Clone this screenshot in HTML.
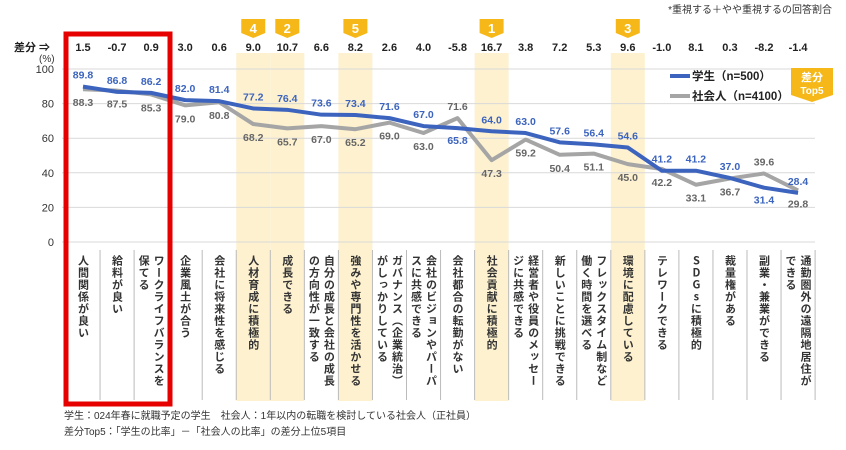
<!DOCTYPE html>
<html><head><meta charset="utf-8">
<style>
body{margin:0;width:846px;height:450px;background:#fff;font-family:"Liberation Sans","Noto Sans CJK JP",sans-serif;overflow:hidden}
svg{position:absolute;left:0;top:0}
.cat{position:absolute;top:255px;writing-mode:vertical-rl;text-orientation:upright;font-size:11px;font-weight:bold;color:#333;line-height:15px;letter-spacing:1px;font-family:"Noto Sans CJK JP",sans-serif}
</style></head><body>
<svg id="chart" width="846" height="450"></svg>
<div id="labels"></div>
<script>
const categories=["人間関係が良い","給料が良い","ワークライフバランスを<br>保てる","企業風土が合う","会社に将来性を感じる","人材育成に積極的","成長できる","自分の成長と会社の成長<br>の方向性が一致する","強みや専門性を活かせる","ガバナンス（企業統治）<br>がしっかりしている","会社のビジョンやパーパ<br>スに共感できる","会社都合の転勤がない","社会貢献に積極的","経営者や役員のメッセー<br>ジに共感できる","新しいことに挑戦できる","フレックスタイム制など<br>働く時間を選べる","環境に配慮している","テレワークできる","SDGsに積極的","裁量権がある","副業・兼業ができる","通勤圏外の遠隔地居住が<br>できる"];
const students=[89.8,86.8,86.2,82.0,81.4,77.2,76.4,73.6,73.4,71.6,67.0,65.8,64.0,63.0,57.6,56.4,54.6,41.2,41.2,37.0,31.4,28.4];
const workers=[88.3,87.5,85.3,79.0,80.8,68.2,65.7,67.0,65.2,69.0,63.0,71.6,47.3,59.2,50.4,51.1,45.0,42.2,33.1,36.7,39.6,29.8];
const diffs=["1.5","-0.7","0.9","3.0","0.6","9.0","10.7","6.6","8.2","2.6","4.0","-5.8","16.7","3.8","7.2","5.3","9.6","-1.0","8.1","0.3","-8.2","-1.4"];
const topIdx=[5,6,8,12,16];
const topRank=["4","2","5","1","3"];
const yTicks=[0,20,40,60,80,100];

const NS="http://www.w3.org/2000/svg";
const svg=document.getElementById('chart');
const X=i=>83+i*34.05;
const Y=v=>242-v*1.73;
function mk(t,a,p){const e=document.createElementNS(NS,t);for(const k in a)e.setAttribute(k,a[k]);(p||svg).appendChild(e);return e;}
function txt(x,y,s,a){const e=mk('text',Object.assign({x:x,y:y,'font-family':'"Liberation Sans","Noto Sans CJK JP",sans-serif'},a));e.textContent=s;return e;}

topIdx.forEach((ci,k)=>{
 const b=mk('rect',{x:X(ci)-17,y:53,width:34,height:348,fill:'#fdf1cf'});
 
 
 const bd=mk('path',{d:`M${X(ci)-12},19 h24 v14 l-12,5 l-12,-5 z`,fill:'#f5b818'});
 
 
 txt(X(ci),33,topRank[k],{'font-size':13,'font-weight':'bold',fill:'#fff','text-anchor':'middle'});
});
yTicks.forEach(t=>{
 const g=mk('line',{x1:62,x2:815,y1:Y(t),y2:Y(t),stroke:'#d9d9d9','stroke-width':1});
 
 
 const l=txt(54,Y(t)+4,String(t),{'font-size':11,fill:'#333','text-anchor':'end'});
 
 
});
for(let i=0;i<=categories.length;i++){
 const s=mk('line',{x1:X(i)-17,x2:X(i)-17,y1:250,y2:400,stroke:'#bbb','stroke-width':1});
 
 
}
diffs.forEach((d,i)=>{
 const e=txt(X(i),51,d,{'font-size':11,'font-weight':'bold',fill:'#222','text-anchor':'middle'});
 
 
});
txt(14,51,'差分 ⇒',{'font-size':11,'font-weight':'bold',fill:'#222'});
txt(39,62,'(%)',{'font-size':10,fill:'#333'});
const wl=mk('polyline',{points:workers.map((v,i)=>X(i)+','+Y(v)).join(' '),fill:'none',stroke:'#a5a5a5','stroke-width':4,'stroke-linejoin':'round'});


const sl=mk('polyline',{points:students.map((v,i)=>X(i)+','+Y(v)).join(' '),fill:'none',stroke:'#3c64be','stroke-width':4,'stroke-linejoin':'round'});


students.forEach((v,i)=>{
 const below=workers[i]-v>3;
 const e=txt(X(i),below?Y(v)+16:Y(v)-8,v.toFixed(1),{'font-size':10.5,'font-weight':'bold',fill:'#3c64be','text-anchor':'middle'});
 
 
});
workers.forEach((v,i)=>{
 const above=v-students[i]>3;
 const e=txt(X(i),above?Y(v)-8:Y(v)+17,v.toFixed(1),{'font-size':10.5,'font-weight':'bold',fill:'#666','text-anchor':'middle'});
 
 
});
const rb=mk('rect',{x:66,y:34,width:104,height:370,fill:'none',stroke:'#e60000','stroke-width':5});


mk('line',{x1:670,x2:690,y1:76,y2:76,stroke:'#3c64be','stroke-width':4});
txt(692,80,'学生（n=500）',{'font-size':11.5,'font-weight':'bold',fill:'#222'});
mk('line',{x1:670,x2:690,y1:96,y2:96,stroke:'#a5a5a5','stroke-width':4});
txt(692,100,'社会人（n=4100）',{'font-size':11.5,'font-weight':'bold',fill:'#222'});
mk('path',{d:'M791,68 h42 v27 l-21,7 l-21,-7 z',fill:'#f5b818'});
txt(812,81,'差分',{'font-size':11,'font-weight':'bold',fill:'#fff','text-anchor':'middle'});
txt(812,94,'Top5',{'font-size':10,'font-weight':'bold',fill:'#fff','text-anchor':'middle'});
txt(832,13,'*重視する＋やや重視するの回答割合',{'font-size':10,fill:'#333','text-anchor':'end'});
txt(64,419,'学生：024年春に就職予定の学生　社会人：1年以内の転職を検討している社会人（正社員）',{'font-size':10,fill:'#333'});
txt(64,435,'差分Top5：「学生の比率」－「社会人の比率」の差分上位5項目',{'font-size':10,fill:'#333'});
const lab=document.getElementById('labels');
categories.forEach((c,i)=>{
 const d=document.createElement('div');
 d.className='cat';
 
 
 d.innerHTML=c;
 const two=c.includes('<br>');
 d.style.left=(X(i)-(two?15:7.5))+'px';
 lab.appendChild(d);
});
</script>
</body></html>
